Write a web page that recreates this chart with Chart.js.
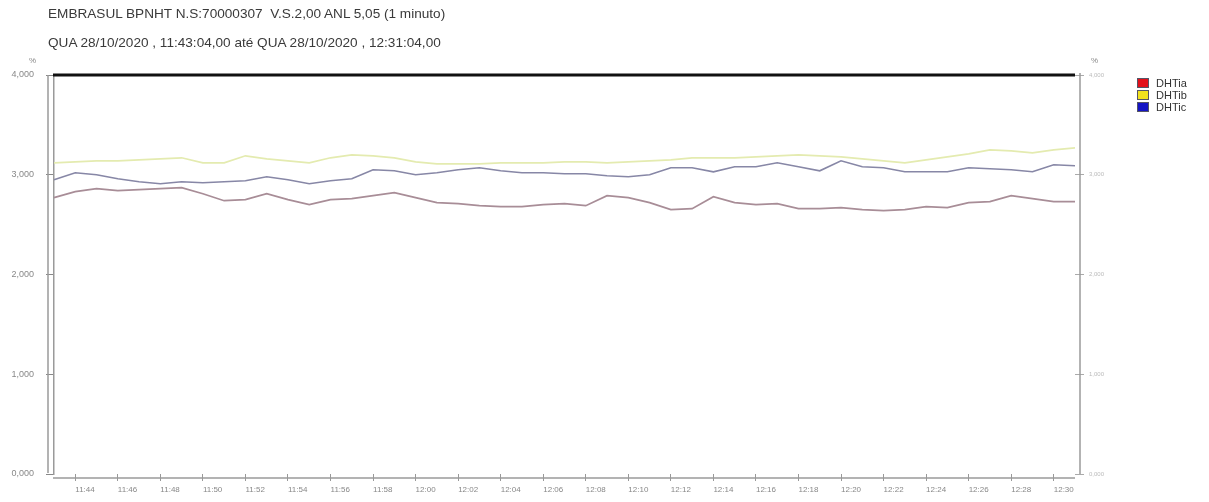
<!DOCTYPE html>
<html lang="pt">
<head>
<meta charset="UTF-8">
<title>EMBRASUL DHT</title>
<script src="https://cdn.jsdelivr.net/npm/chart.js"></script>
<style>
  body { margin: 0; background: #fff; font-family: "Liberation Sans", Arial, sans-serif; }
  .wrap { position: relative; width: 1209px; height: 502px; overflow: hidden; }
  #grafico { position: absolute; left: 0; top: 0; }
  .titulo { position: absolute; left: 48px; font-size: 13.6px; line-height: 16px; color: #3a3a3a; white-space: pre; }
  .unidade { position: absolute; top: 56px; font-size: 8px; color: #888; }
  .legenda { position: absolute; left: 1137px; top: 77px; font-size: 11px; color: #333; }
  .legenda div { display: flex; align-items: center; height: 12px; }
  .legenda span.caixa { width: 12px; height: 10px; margin-right: 7px; border: 1px solid #556; box-sizing: border-box; }
</style>
</head>
<body>
<div class="wrap">
  <canvas id="grafico" width="1209" height="502"></canvas>
  <div class="titulo" style="top:6px">EMBRASUL BPNHT N.S:70000307  V.S.2,00 ANL 5,05 (1 minuto)</div>
  <div class="titulo" style="top:35px">QUA 28/10/2020 , 11:43:04,00 até QUA 28/10/2020 , 12:31:04,00</div>
  <div class="unidade" style="left:29px">%</div>
  <div class="unidade" style="left:1091px">%</div>
  <div class="legenda" id="legenda"></div>
</div>
<script>
// minutos registrados
const horarios = [
  '11:43','11:44','11:45','11:46','11:47','11:48','11:49','11:50','11:51','11:52',
  '11:53','11:54','11:55','11:56','11:57','11:58','11:59','12:00','12:01','12:02',
  '12:03','12:04','12:05','12:06','12:07','12:08','12:09','12:10','12:11','12:12',
  '12:13','12:14','12:15','12:16','12:17','12:18','12:19','12:20','12:21','12:22',
  '12:23','12:24','12:25','12:26','12:27','12:28','12:29','12:30','12:31'
];

const dhtia = [
  2.77, 2.83, 2.86, 2.84, 2.85, 2.86, 2.87, 2.81, 2.74, 2.75,
  2.81, 2.75, 2.70, 2.75, 2.76, 2.79, 2.82, 2.77, 2.72, 2.71,
  2.69, 2.68, 2.68, 2.70, 2.71, 2.69, 2.79, 2.77, 2.72, 2.65,
  2.66, 2.78, 2.72, 2.70, 2.71, 2.66, 2.66, 2.67, 2.65, 2.64,
  2.65, 2.68, 2.67, 2.72, 2.73, 2.79, 2.76, 2.73, 2.73
];

const dhtib = [
  3.12, 3.13, 3.14, 3.14, 3.15, 3.16, 3.17, 3.12, 3.12, 3.19,
  3.16, 3.14, 3.12, 3.17, 3.20, 3.19, 3.17, 3.13, 3.11, 3.11,
  3.11, 3.12, 3.12, 3.12, 3.13, 3.13, 3.12, 3.13, 3.14, 3.15,
  3.17, 3.17, 3.17, 3.18, 3.19, 3.20, 3.19, 3.18, 3.16, 3.14,
  3.12, 3.15, 3.18, 3.21, 3.25, 3.24, 3.22, 3.25, 3.27
];

const dhtic = [
  2.95, 3.02, 3.00, 2.96, 2.93, 2.91, 2.93, 2.92, 2.93, 2.94,
  2.98, 2.95, 2.91, 2.94, 2.96, 3.05, 3.04, 3.00, 3.02, 3.05,
  3.07, 3.04, 3.02, 3.02, 3.01, 3.01, 2.99, 2.98, 3.00, 3.07,
  3.07, 3.03, 3.08, 3.08, 3.12, 3.08, 3.04, 3.14, 3.08, 3.07,
  3.03, 3.03, 3.03, 3.07, 3.06, 3.05, 3.03, 3.10, 3.09
];

const series = [
  { nome: 'DHTia', dados: dhtia, linha: '#a88d97', caixa: '#e3101a' },
  { nome: 'DHTib', dados: dhtib, linha: '#e4ebb0', caixa: '#f2e21e' },
  { nome: 'DHTic', dados: dhtic, linha: '#8787a6', caixa: '#1414c4' }
];

// legenda
const leg = document.getElementById('legenda');
series.forEach(s => {
  const linha = document.createElement('div');
  linha.innerHTML = `<span class="caixa" style="background:${s.caixa}"></span>${s.nome}`;
  leg.appendChild(linha);
});

const fmt = v => v.toFixed(3).replace('.', ',');

// moldura: linha preta superior, eixo duplo esquerdo, eixo x e eixo direito
const moldura = {
  id: 'moldura',
  afterDraw(chart) {
    const { ctx, chartArea: a } = chart;
    ctx.save();
    ctx.strokeStyle = '#9a9a9a';
    ctx.lineWidth = 1.5;
    ctx.beginPath();
    ctx.moveTo(a.left - 6, a.top); ctx.lineTo(a.left - 6, a.bottom - 1);
    ctx.moveTo(a.left - 1, a.bottom + 4); ctx.lineTo(a.right, a.bottom + 4);
    ctx.moveTo(a.right + 5, a.top - 2); ctx.lineTo(a.right + 5, a.bottom);
    ctx.stroke();
    ctx.strokeStyle = '#111';
    ctx.lineWidth = 3;
    ctx.beginPath();
    ctx.moveTo(a.left - 1, a.top); ctx.lineTo(a.right, a.top);
    ctx.stroke();
    ctx.restore();
  }
};

new Chart(document.getElementById('grafico'), {
  type: 'line',
  data: {
    labels: horarios,
    datasets: series.map(s => ({
      label: s.nome,
      data: s.dados,
      borderColor: s.linha,
      backgroundColor: s.linha,
      borderWidth: 1.7,
      pointRadius: 0,
      tension: 0
    }))
  },
  options: {
    responsive: false,
    animation: false,
    layout: { padding: { top: 75, left: 0, right: 0, bottom: 0 } },
    plugins: { legend: { display: false }, title: { display: false }, tooltip: { enabled: false } },
    scales: {
      x: {
        afterFit: s => { s.height = 28; },
        border: { display: false },
        grid: { drawOnChartArea: false, drawTicks: true, tickLength: 7, color: '#999' },
        ticks: {
          autoSkip: false, maxRotation: 0, align: 'start', padding: 4,
          color: '#888', font: { family: 'Liberation Sans', size: 8 },
          callback: (v, i) => (i % 2 === 1 ? horarios[i] : null)
        }
      },
      y: {
        position: 'left', min: 0, max: 4,
        afterFit: s => { s.width = 54; },
        border: { display: true, color: '#9a9a9a', width: 1.5 },
        grid: { drawOnChartArea: false, tickLength: 8, color: '#888' },
        ticks: { stepSize: 1, padding: 12, color: '#888', font: { family: 'Liberation Sans', size: 9 }, callback: fmt }
      },
      y2: {
        position: 'right', min: 0, max: 4, display: true,
        afterFit: s => { s.width = 134; },
        border: { display: false },
        grid: { drawOnChartArea: false, tickLength: 9, color: '#aaa' },
        ticks: { stepSize: 1, padding: 5, color: '#bbb', font: { family: 'Liberation Sans', size: 6 }, callback: fmt }
      }
    }
  },
  plugins: [moldura]
});
</script>
</body>
</html>
